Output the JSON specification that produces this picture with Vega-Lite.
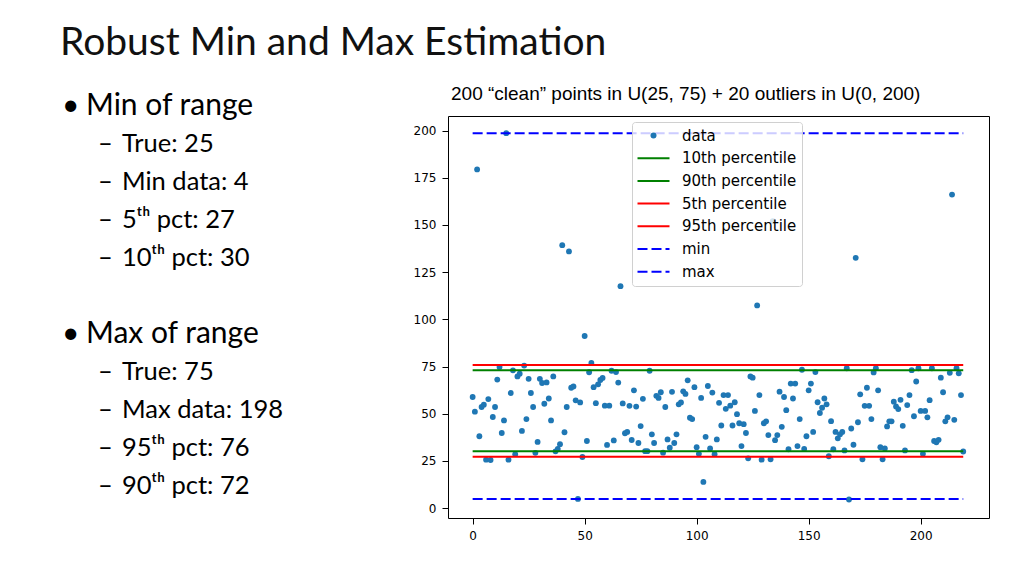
{
  "$schema": "https://vega.github.io/schema/vega-lite/v6.json",
  "background": "white",
  "padding": {"left": 0, "top": 23, "right": 0, "bottom": 0},
  "title": {"text": "Robust Min and Max Estimation", "anchor": "start", "dx": 60, "font": "Lato", "fontSize": 39, "fontWeight": "normal", "color": "#111111", "offset": 22},
  "spacing": 32,
  "datasets": {
    "slide": [
      {"line": 0, "level": 1, "marker": "•", "text": "Min of range"},
      {"line": 1, "level": 2, "marker": "–", "text": "True: 25"},
      {"line": 2, "level": 2, "marker": "–", "text": "Min data: 4"},
      {"line": 3, "level": 2, "marker": "–", "text": "5ᵗʰ pct: 27"},
      {"line": 4, "level": 2, "marker": "–", "text": "10ᵗʰ pct: 30"},
      {"line": 6, "level": 1, "marker": "•", "text": "Max of range"},
      {"line": 7, "level": 2, "marker": "–", "text": "True: 75"},
      {"line": 8, "level": 2, "marker": "–", "text": "Max data: 198"},
      {"line": 9, "level": 2, "marker": "–", "text": "95ᵗʰ pct: 76"},
      {"line": 10, "level": 2, "marker": "–", "text": "90ᵗʰ pct: 72"}
    ],
    "lines": [
      {"s": "10th percentile", "v": 30.2, "a": 0, "b": 219},
      {"s": "90th percentile", "v": 73.0, "a": 0, "b": 219},
      {"s": "5th percentile", "v": 27.3, "a": 0, "b": 219},
      {"s": "95th percentile", "v": 75.8, "a": 0, "b": 219},
      {"s": "min", "v": 4.9, "a": 0, "b": 219},
      {"s": "max", "v": 198.6, "a": 0, "b": 219}
    ],
    "pts": [
      {"i":0,"v":58.9,"s":"data"},{"i":1,"v":51.1,"s":"data"},{"i":2,"v":179.4,"s":"data"},{"i":3,"v":38.1,"s":"data"},{"i":4,"v":53.6,"s":"data"},
      {"i":5,"v":54.8,"s":"data"},{"i":6,"v":25.7,"s":"data"},{"i":7,"v":57.8,"s":"data"},{"i":8,"v":25.5,"s":"data"},{"i":9,"v":48.3,"s":"data"},
      {"i":10,"v":53.6,"s":"data"},{"i":11,"v":68.1,"s":"data"},{"i":12,"v":74.8,"s":"data"},{"i":13,"v":39.8,"s":"data"},{"i":14,"v":46.5,"s":"data"},
      {"i":15,"v":198.6,"s":"data"},{"i":16,"v":25.7,"s":"data"},{"i":17,"v":61,"s":"data"},{"i":18,"v":73,"s":"data"},{"i":19,"v":28.6,"s":"data"},
      {"i":20,"v":69.8,"s":"data"},{"i":21,"v":71.2,"s":"data"},{"i":22,"v":40.9,"s":"data"},{"i":23,"v":75.5,"s":"data"},{"i":24,"v":47.2,"s":"data"},
      {"i":25,"v":68.5,"s":"data"},{"i":26,"v":61,"s":"data"},{"i":27,"v":53.6,"s":"data"},{"i":28,"v":29.3,"s":"data"},{"i":29,"v":35.1,"s":"data"},
      {"i":30,"v":68.5,"s":"data"},{"i":31,"v":66.3,"s":"data"},{"i":32,"v":55.3,"s":"data"},{"i":33,"v":66.6,"s":"data"},{"i":34,"v":58.1,"s":"data"},
      {"i":35,"v":46.5,"s":"data"},{"i":36,"v":69.8,"s":"data"},{"i":37,"v":30.1,"s":"data"},{"i":38,"v":31.4,"s":"data"},{"i":39,"v":33.9,"s":"data"},
      {"i":40,"v":139.3,"s":"data"},{"i":41,"v":40.2,"s":"data"},{"i":42,"v":53.6,"s":"data"},{"i":43,"v":136,"s":"data"},{"i":44,"v":63.8,"s":"data"},
      {"i":45,"v":64.5,"s":"data"},{"i":46,"v":57.1,"s":"data"},{"i":47,"v":4.9,"s":"data"},{"i":48,"v":56,"s":"data"},{"i":49,"v":27.1,"s":"data"},
      {"i":50,"v":91.2,"s":"data"},{"i":51,"v":35.6,"s":"data"},{"i":52,"v":72,"s":"data"},{"i":53,"v":76.9,"s":"data"},{"i":54,"v":64.1,"s":"data"},
      {"i":55,"v":55.6,"s":"data"},{"i":56,"v":65.6,"s":"data"},{"i":57,"v":67.9,"s":"data"},{"i":58,"v":69,"s":"data"},{"i":59,"v":54.3,"s":"data"},
      {"i":60,"v":33.5,"s":"data"},{"i":61,"v":54.3,"s":"data"},{"i":62,"v":72.8,"s":"data"},{"i":63,"v":35.9,"s":"data"},{"i":64,"v":72.1,"s":"data"},
      {"i":65,"v":66.5,"s":"data"},{"i":66,"v":117.6,"s":"data"},{"i":67,"v":55.5,"s":"data"},{"i":68,"v":39.7,"s":"data"},{"i":69,"v":40.4,"s":"data"},
      {"i":70,"v":54.2,"s":"data"},{"i":71,"v":36.1,"s":"data"},{"i":72,"v":62.4,"s":"data"},{"i":73,"v":53.8,"s":"data"},{"i":74,"v":34.5,"s":"data"},
      {"i":75,"v":43.5,"s":"data"},{"i":76,"v":57.9,"s":"data"},{"i":77,"v":30.2,"s":"data"},{"i":78,"v":30.2,"s":"data"},{"i":79,"v":72.8,"s":"data"},
      {"i":80,"v":39.1,"s":"data"},{"i":81,"v":34.5,"s":"data"},{"i":82,"v":59.5,"s":"data"},{"i":83,"v":58.4,"s":"data"},{"i":84,"v":61.4,"s":"data"},
      {"i":85,"v":29.4,"s":"data"},{"i":86,"v":53.6,"s":"data"},{"i":87,"v":36.4,"s":"data"},{"i":88,"v":32,"s":"data"},{"i":89,"v":61.6,"s":"data"},
      {"i":90,"v":34.5,"s":"data"},{"i":91,"v":39.1,"s":"data"},{"i":92,"v":55,"s":"data"},{"i":93,"v":56,"s":"data"},{"i":94,"v":61.9,"s":"data"},
      {"i":95,"v":60.5,"s":"data"},{"i":96,"v":67.7,"s":"data"},{"i":97,"v":47.9,"s":"data"},{"i":98,"v":47.2,"s":"data"},{"i":99,"v":64.1,"s":"data"},
      {"i":100,"v":32.3,"s":"data"},{"i":101,"v":28.8,"s":"data"},{"i":102,"v":58.4,"s":"data"},{"i":103,"v":13.9,"s":"data"},{"i":104,"v":37.8,"s":"data"},
      {"i":105,"v":64.7,"s":"data"},{"i":106,"v":31.6,"s":"data"},{"i":107,"v":61.2,"s":"data"},{"i":108,"v":28.6,"s":"data"},{"i":109,"v":36.4,"s":"data"},
      {"i":110,"v":55.8,"s":"data"},{"i":111,"v":43.8,"s":"data"},{"i":112,"v":59.9,"s":"data"},{"i":113,"v":52.6,"s":"data"},{"i":114,"v":59.9,"s":"data"},
      {"i":115,"v":54.3,"s":"data"},{"i":116,"v":43.8,"s":"data"},{"i":117,"v":56.1,"s":"data"},{"i":118,"v":49.8,"s":"data"},{"i":119,"v":45,"s":"data"},
      {"i":120,"v":32.9,"s":"data"},{"i":121,"v":44.5,"s":"data"},{"i":122,"v":39.8,"s":"data"},{"i":123,"v":26.4,"s":"data"},{"i":124,"v":69.8,"s":"data"},
      {"i":125,"v":69.1,"s":"data"},{"i":126,"v":51.5,"s":"data"},{"i":127,"v":107.4,"s":"data"},{"i":128,"v":59.9,"s":"data"},{"i":129,"v":25.7,"s":"data"},
      {"i":130,"v":45,"s":"data"},{"i":131,"v":46,"s":"data"},{"i":132,"v":38.7,"s":"data"},{"i":133,"v":25.9,"s":"data"},{"i":134,"v":152,"s":"data"},
      {"i":135,"v":36,"s":"data"},{"i":136,"v":38.7,"s":"data"},{"i":137,"v":61.7,"s":"data"},{"i":138,"v":43.1,"s":"data"},{"i":139,"v":58.9,"s":"data"},
      {"i":140,"v":51.9,"s":"data"},{"i":141,"v":31.2,"s":"data"},{"i":142,"v":66,"s":"data"},{"i":143,"v":58.1,"s":"data"},{"i":144,"v":66,"s":"data"},
      {"i":145,"v":32.9,"s":"data"},{"i":146,"v":47.2,"s":"data"},{"i":147,"v":73.3,"s":"data"},{"i":148,"v":31.4,"s":"data"},{"i":149,"v":38.1,"s":"data"},
      {"i":150,"v":62.4,"s":"data"},{"i":151,"v":66,"s":"data"},{"i":152,"v":40.4,"s":"data"},{"i":153,"v":72.1,"s":"data"},{"i":154,"v":56.1,"s":"data"},
      {"i":155,"v":50.4,"s":"data"},{"i":156,"v":53.2,"s":"data"},{"i":157,"v":58.1,"s":"data"},{"i":158,"v":55,"s":"data"},{"i":159,"v":27.5,"s":"data"},
      {"i":160,"v":46.1,"s":"data"},{"i":161,"v":31.2,"s":"data"},{"i":162,"v":40.4,"s":"data"},{"i":163,"v":37,"s":"data"},{"i":164,"v":39.1,"s":"data"},
      {"i":165,"v":40.4,"s":"data"},{"i":166,"v":30.6,"s":"data"},{"i":167,"v":74.1,"s":"data"},{"i":168,"v":4.6,"s":"data"},{"i":169,"v":42.2,"s":"data"},
      {"i":170,"v":33.6,"s":"data"},{"i":171,"v":132.6,"s":"data"},{"i":172,"v":45.5,"s":"data"},{"i":173,"v":60.3,"s":"data"},{"i":174,"v":25.9,"s":"data"},
      {"i":175,"v":54.2,"s":"data"},{"i":176,"v":63.8,"s":"data"},{"i":177,"v":54.2,"s":"data"},{"i":178,"v":47.2,"s":"data"},{"i":179,"v":71.9,"s":"data"},
      {"i":180,"v":74.1,"s":"data"},{"i":181,"v":62.4,"s":"data"},{"i":182,"v":32.3,"s":"data"},{"i":183,"v":25.9,"s":"data"},{"i":184,"v":31.6,"s":"data"},
      {"i":185,"v":43.3,"s":"data"},{"i":186,"v":46,"s":"data"},{"i":187,"v":46,"s":"data"},{"i":188,"v":56.4,"s":"data"},{"i":189,"v":53.9,"s":"data"},
      {"i":190,"v":52.5,"s":"data"},{"i":191,"v":57.4,"s":"data"},{"i":192,"v":43.6,"s":"data"},{"i":193,"v":30.6,"s":"data"},{"i":194,"v":54.6,"s":"data"},
      {"i":195,"v":59.9,"s":"data"},{"i":196,"v":73.1,"s":"data"},{"i":197,"v":48.7,"s":"data"},{"i":198,"v":67.1,"s":"data"},{"i":199,"v":74.1,"s":"data"},
      {"i":200,"v":51.5,"s":"data"},{"i":201,"v":28.8,"s":"data"},{"i":202,"v":51.5,"s":"data"},{"i":203,"v":48.1,"s":"data"},{"i":204,"v":57.2,"s":"data"},
      {"i":205,"v":74.1,"s":"data"},{"i":206,"v":35.6,"s":"data"},{"i":207,"v":34.9,"s":"data"},{"i":208,"v":36.2,"s":"data"},{"i":209,"v":69.1,"s":"data"},
      {"i":210,"v":61.4,"s":"data"},{"i":211,"v":46,"s":"data"},{"i":212,"v":48.1,"s":"data"},{"i":213,"v":71.7,"s":"data"},{"i":214,"v":166.1,"s":"data"},
      {"i":215,"v":46.8,"s":"data"},{"i":216,"v":74.1,"s":"data"},{"i":217,"v":71.4,"s":"data"},{"i":218,"v":59.9,"s":"data"},{"i":219,"v":30,"s":"data"}
    ]
  },
  "hconcat": [
    {
      "width": 380,
      "height": 420,
      "view": {"stroke": null},
      "data": {"name": "slide"},
      "layer": [
        {
          "mark": {"type": "text", "align": "left", "baseline": "middle", "font": "Lato", "color": "#000000"},
          "encoding": {
            "x": {"field": "level", "type": "quantitative", "scale": {"domain": [1, 2], "range": [62, 98]}, "axis": null},
            "y": {"field": "line", "type": "quantitative", "scale": {"domain": [0, 10], "range": [-10, 370]}, "axis": null},
            "text": {"field": "marker"},
            "size": {"field": "level", "type": "quantitative", "scale": {"domain": [1, 2], "range": [30, 25.5]}, "legend": null}
          }
        },
        {
          "mark": {"type": "text", "align": "left", "baseline": "middle", "font": "Lato", "color": "#000000", "dx": 24},
          "encoding": {
            "x": {"field": "level", "type": "quantitative", "scale": {"domain": [1, 2], "range": [62, 98]}, "axis": null},
            "y": {"field": "line", "type": "quantitative", "scale": {"domain": [0, 10], "range": [-10, 370]}, "axis": null},
            "text": {"field": "text"},
            "size": {"field": "level", "type": "quantitative", "scale": {"domain": [1, 2], "range": [30, 25.5]}, "legend": null}
          }
        }
      ]
    },
    {
      "width": 541,
      "height": 402,
      "title": {"text": "200 “clean” points in U(25, 75) + 20 outliers in U(0, 200)", "anchor": "start", "frame": "group", "dx": 3, "font": "Liberation Sans", "fontSize": 19, "fontWeight": "normal", "color": "#000000", "offset": 12},
      "view": {"stroke": "#000000", "strokeWidth": 1},
      "layer": [
        {
          "data": {"name": "pts"},
          "mark": {"type": "point", "filled": true, "size": 34, "opacity": 1},
          "encoding": {
            "x": {"field": "i", "type": "quantitative", "scale": {"domain": [-11, 230.5], "nice": false, "zero": false},
                  "axis": {"values": [0, 50, 100, 150, 200], "title": null}},
            "y": {"field": "v", "type": "quantitative", "scale": {"domain": [-5.2, 207.7], "nice": false, "zero": false},
                  "axis": {"values": [0, 25, 50, 75, 100, 125, 150, 175, 200], "title": null}},
            "color": {
              "field": "s", "type": "nominal", "sort": null,
              "scale": {"domain": ["data", "10th percentile", "90th percentile", "5th percentile", "95th percentile", "min", "max"],
                        "range": ["#1f77b4", "#008000", "#008000", "#ff0000", "#ff0000", "#0000ff", "#0000ff"]},
              "legend": {
                "title": null, "orient": "none", "legendX": 632, "legendY": 6, "padding": 5,
                "fillColor": "rgba(255,255,255,0.8)", "strokeColor": "#d0d0d0", "cornerRadius": 3,
                "labelFont": "DejaVu Sans", "labelFontSize": 15, "labelColor": "#000000", "labelOffset": 21,
                "rowPadding": 5.7, "clipHeight": 17, "symbolSize": 1024, "symbolStrokeWidth": 2, "symbolType": "stroke", "symbolOffset": 9,
                "encoding": {
                  "symbols": {
                    "shape": {"value": {"expr": "datum.value === 'data' ? 'circle' : 'stroke'"}},
                    "size": {"value": {"expr": "datum.value === 'data' ? 36 : 1024"}},
                    "fill": {"value": {"expr": "datum.value === 'data' ? '#1f77b4' : 'transparent'"}},
                    "stroke": {"value": {"expr": "scale('color', datum.value)"}},
                    "strokeWidth": {"value": {"expr": "datum.value === 'data' ? 0 : 2"}},
                    "strokeDash": {"value": {"expr": "(datum.value === 'min' || datum.value === 'max') ? [8, 4] : [1, 0]"}},
                    "opacity": {"value": 1}
                  }
                }
              }
            }
          }
        },
        {
          "data": {"name": "lines"},
          "mark": {"type": "rule", "strokeWidth": 2},
          "encoding": {
            "x": {"field": "a", "type": "quantitative"},
            "x2": {"field": "b"},
            "y": {"field": "v", "type": "quantitative"},
            "color": {"field": "s", "type": "nominal", "sort": null},
            "strokeDash": {
              "field": "s", "type": "nominal", "sort": null,
              "scale": {"domain": ["data", "10th percentile", "90th percentile", "5th percentile", "95th percentile", "min", "max"],
                        "range": [[1, 0], [1, 0], [1, 0], [1, 0], [1, 0], [10, 4], [10, 4]]},
              "legend": null
            }
          }
        }
      ]
    }
  ],
  "config": {
    "axis": {"grid": false, "domain": false, "tickColor": "#000000", "tickSize": 6, "labelColor": "#000000", "labelFont": "DejaVu Sans", "labelFontSize": 12, "labelPadding": 6},
    "font": "DejaVu Sans"
  }
}
